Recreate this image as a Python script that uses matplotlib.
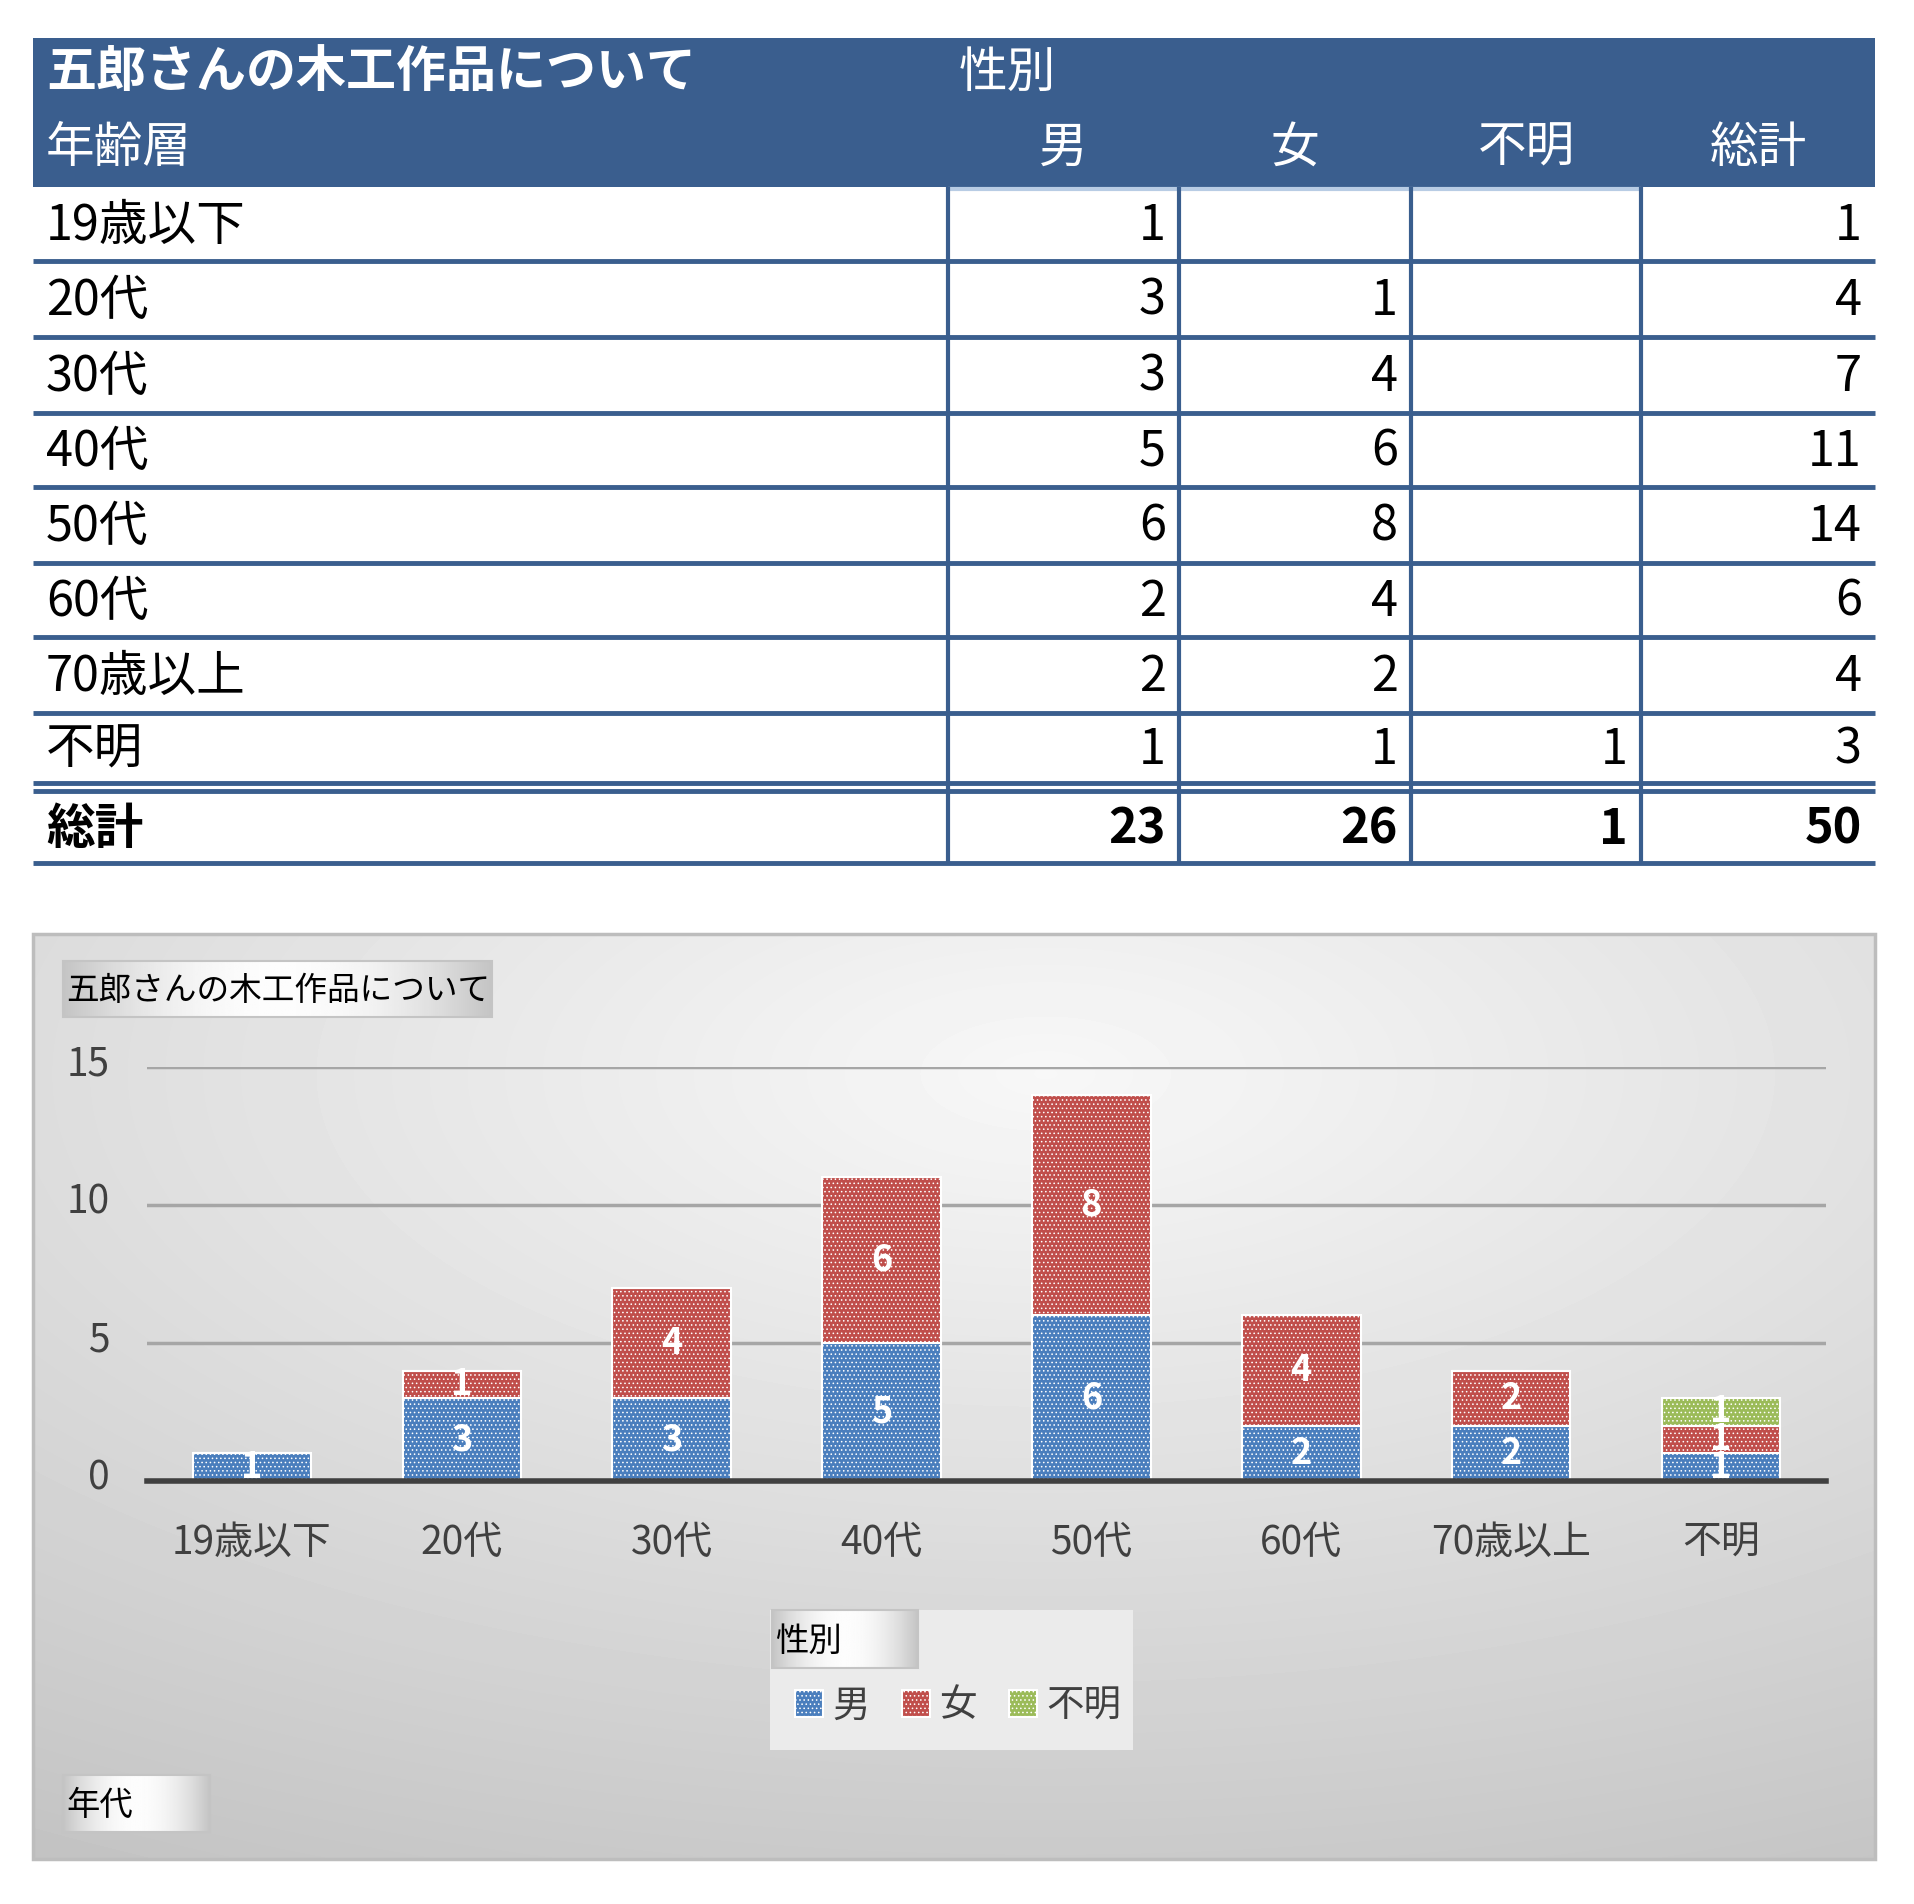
import numpy as np
import matplotlib
matplotlib.use('Agg')
import matplotlib.pyplot as plt
import matplotlib.transforms as mtrans
from matplotlib.patches import Rectangle

plt.rcParams['font.family'] = ['Noto Sans CJK JP', 'DejaVu Sans']
plt.rcParams['hatch.linewidth'] = 0.6

# data
ages = ['19歳以下', '20代', '30代', '40代', '50代', '60代', '70歳以上', '不明']
male = [1, 3, 3, 5, 6, 2, 2, 1]
female = [0, 1, 4, 6, 8, 4, 2, 1]
unknown = [0, 0, 0, 0, 0, 0, 0, 1]
genders = ['男', '女', '不明']
title = '五郎さんの木工作品について'
yticks = [0, 5, 10, 15]

HEAD = '#3A5E8E'
colors = ['#4A7EBD', '#C04E4B', '#9BBB59']

W, H = 1915, 1904
fig = plt.figure(figsize=(W / 100, H / 100), dpi=100)
bg = fig.add_axes([0, 0, 1, 1])
bg.set_xlim(0, W)
bg.set_ylim(H, 0)
bg.axis('off')

# ---- table ----
tl, tr = 33, 1875
cols = [948, 1179, 1411, 1641, tr]
FS = 35
bg.add_patch(Rectangle((tl, 38), tr - tl, 149, color=HEAD, lw=0))
bg.text(46, 73, title, color='white', fontsize=36, fontweight='bold', va='center')
bg.text(959, 73, '性別', color='white', fontsize=FS, va='center')
bg.text(46, 148, '年齢層', color='white', fontsize=FS, va='center')
for i, g in enumerate(genders + ['総計']):
    bg.text((cols[i] + cols[i + 1]) / 2, 148, g, color='white', fontsize=FS,
            ha='center', va='center')

row_top = [187, 261, 337, 413, 487, 563, 637, 713, 791]
row_bot = [261, 337, 413, 487, 563, 637, 713, 783, 863]
mat = list(zip(male, female, unknown))
rows = [(a, list(m) + [sum(m)]) for a, m in zip(ages, mat)]
rows.append(('総計', [sum(male), sum(female), sum(unknown), sum(male) + sum(female) + sum(unknown)]))
for r, (lab, vals) in enumerate(rows):
    yc = (row_top[r] + row_bot[r]) / 2 + 2
    bold = 'bold' if r == len(rows) - 1 else 'normal'
    bg.text(46, yc, lab, fontsize=FS, va='center', color='black', fontweight=bold)
    for c, v in enumerate(vals):
        if v:
            bg.text(cols[c + 1] - 13, yc, str(v), fontsize=FS, va='center',
                    ha='right', color='black', fontweight=bold)
    bg.plot([tl, tr], [row_bot[r], row_bot[r]], color=HEAD, lw=3.5, solid_capstyle='butt')
bg.plot([tl, tr], [791, 791], color=HEAD, lw=3.5, solid_capstyle='butt')
bg.plot([cols[0], cols[3]], [189, 189], color='#B8CCE4', lw=3, solid_capstyle='butt')
for x in cols[:4]:
    bg.plot([x, x], [187, 863], color=HEAD, lw=3, solid_capstyle='butt')

# ---- chart panel background ----
px0, px1, py0, py1 = 33, 1875, 934, 1859
yy, xx = np.mgrid[0:1:300j, 0:1:300j]
d = np.sqrt(((xx - 0.55) * 1.0) ** 2 + ((yy - 0.15) * 1.1) ** 2)
grad = 0.97 - 0.19 * d
bg.imshow(grad, cmap='gray', vmin=0, vmax=1, extent=[px0, px1, py1, py0],
          aspect='auto', interpolation='bilinear', zorder=0)
bg.add_patch(Rectangle((px0, py0), px1 - px0, py1 - py0, fill=False,
                       ec='#BDBDBD', lw=2.5, zorder=1))


def button(x0, y0, x1, y1, txt, size):
    g = np.abs(np.linspace(-1, 1, 200)) ** 2
    img = np.tile(0.99 - 0.22 * g, (20, 1))
    bg.imshow(img, cmap='gray', vmin=0, vmax=1, extent=[x0, x1, y1, y0],
              aspect='auto', zorder=2)
    bg.add_patch(Rectangle((x0, y0), x1 - x0, y1 - y0, fill=False,
                           ec='#C4C4C4', lw=1.5, zorder=3))
    bg.text(x0 + 3, (y0 + y1) / 2 + 2, txt, fontsize=size, va='center',
            color='black', zorder=4)


# legend area
bg.add_patch(Rectangle((770, 1610), 363, 140, color='#EBEBEB', lw=0, zorder=1))
button(63, 961, 492, 1017, title, 23.5)
button(772, 1610, 918, 1668, '性別', 24)
button(63, 1775, 210, 1832, '年代', 24)
bg.set_xlim(0, W)
bg.set_ylim(H, 0)

# ---- bar chart ----
ax = fig.add_axes([147 / W, 1 - 1481 / H, (1826 - 147) / W, (1481 - 1067) / H])
ax.patch.set_alpha(0)
x = np.arange(len(ages))
bottom = np.zeros(len(ages))
handles = []
for g, vals, col in zip(genders, [male, female, unknown], colors):
    vals = np.array(vals)
    bars = ax.bar(x, vals, 0.565, bottom=bottom, color=col, edgecolor='white',
                  linewidth=1.5, hatch='....', label=g, zorder=3)
    handles.append(bars)
    for xi, v, b in zip(x, vals, bottom):
        if v:
            ax.text(xi, b + v / 2, str(v), color='white', fontsize=26,
                    fontweight='bold', ha='center', va='center', zorder=5)
    bottom += vals

ax.set_xlim(-0.5, 7.5)
ax.set_ylim(0, 15)
ax.set_yticks(yticks)
ax.set_xticks(x)
ax.set_xticklabels(ages)
ax.tick_params(axis='both', length=0, labelsize=28, labelcolor='#404040')
ax.tick_params(axis='y', pad=27)
ax.tick_params(axis='x', pad=30)
for s in ['top', 'right', 'left']:
    ax.spines[s].set_visible(False)
ax.spines['bottom'].set_color('#404040')
ax.spines['bottom'].set_linewidth(4)
ax.spines['bottom'].set_zorder(6)
ax.yaxis.grid(True, color='#A6A6A6', lw=2.5, zorder=1)
ax.set_axisbelow(True)
shift = mtrans.ScaledTranslation(0, 0.07, fig.dpi_scale_trans)
for lbl in ax.get_yticklabels():
    lbl.set_transform(lbl.get_transform() + shift)

fig.legend(handles=handles, labels=genders, loc='center', ncol=3,
           bbox_to_anchor=(958 / W, 1 - 1706 / H), frameon=False,
           fontsize=27, handlelength=0.75, handleheight=0.75, handletextpad=0.25,
           columnspacing=0.85, labelcolor='#404040')

fig.savefig('out.png', dpi=100)
